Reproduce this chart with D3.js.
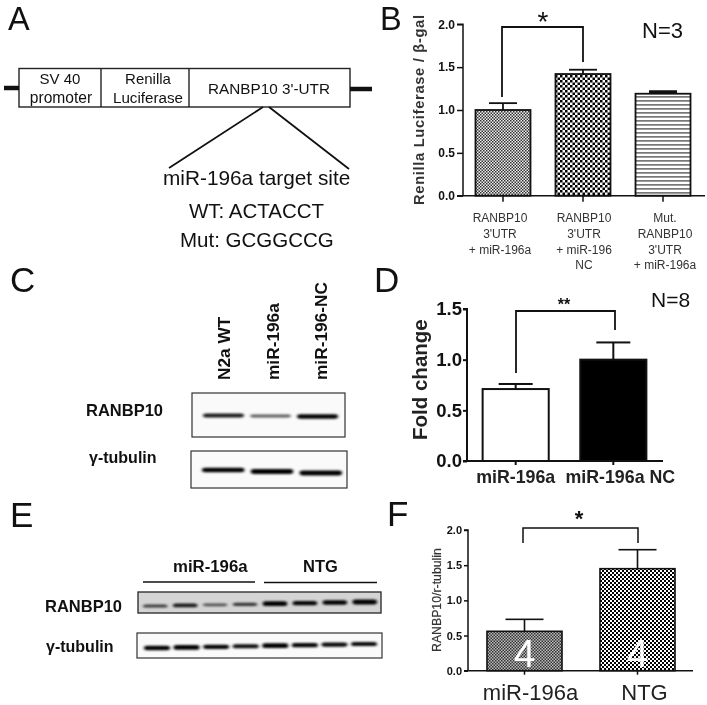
<!DOCTYPE html>
<html><head><meta charset="utf-8">
<script src="https://cdnjs.cloudflare.com/ajax/libs/d3/7.8.5/d3.min.js"></script>
<style>html,body{margin:0;padding:0;background:#fff}svg{display:block;filter:blur(.35px)}text{font-family:"Liberation Sans",Arial,sans-serif;fill:#111}</style>
</head><body><svg id="c" width="707" height="705"></svg>
<script>
// Panel B
const bCats=[["RANBP10","3'UTR","+ miR-196a"],["RANBP10","3'UTR","+ miR-196","NC"],["Mut.","RANBP10","3'UTR","+ miR-196a"]];
const bVals=[1.0,1.42,1.19];
const bTops=[1.08,1.47,1.22];
const bTicks=[0,0.5,1,1.5,2];
// Panel D
const dCats=["miR-196a","miR-196a NC"];
const dVals=[0.71,1.0];
const dTops=[0.76,1.17];
const dTicks=[0,0.5,1,1.5];
// Panel F
const fCats=["miR-196a","NTG"];
const fVals=[0.56,1.45];
const fTops=[0.73,1.72];
const fTicks=[0,0.5,1,1.5,2];
const fCounts=["4","4"];
// Blot band intensities
const cLanes=["N2a WT","miR-196a","miR-196-NC"];
const cRanbp=[0.72,0.38,0.85];
const cTub=[0.9,1,1];
const eRanbp=[0.5,0.72,0.38,0.55,1,0.85,0.92,1];
const eTub=[0.92,1,0.85,0.8,1,0.85,0.82,0.82];

const svg=d3.select("#c"),defs=svg.append("defs");
function pat(id,w,h,draw){const p=defs.append("pattern").attr("id",id).attr("patternUnits","userSpaceOnUse").attr("width",w).attr("height",h);draw(p);}
function checker(id,s,dark,light){pat(id,s*2,s*2,p=>{
 p.append("rect").attr("width",s*2).attr("height",s*2).attr("fill",light);
 p.append("rect").attr("width",s).attr("height",s).attr("fill",dark);
 p.append("rect").attr("x",s).attr("y",s).attr("width",s).attr("height",s).attr("fill",dark);});}
checker("fine",1.5,"#333","#eee");
checker("coarse",2.5,"#000","#fff");
checker("mid",2,"#000","#fff");
checker("fineDark",1.5,"#333","#bbb");
pat("hl",4,4,p=>{p.append("rect").attr("width",4).attr("height",4).attr("fill","#fff");p.append("rect").attr("width",4).attr("height",1.7).attr("fill","#777");});
defs.append("filter").attr("id","b1").attr("x","-20%").attr("y","-200%").attr("width","140%").attr("height","500%").append("feGaussianBlur").attr("stdDeviation","1.8 .9");

function txt(x,y,s,size,o={}){const t=svg.append("text").attr("x",x).attr("y",y).attr("font-size",size).attr("text-anchor",o.anchor||"start").text(s);
 if(o.bold)t.attr("font-weight","bold");if(o.fill)t.style("fill",o.fill);if(o.rot)t.attr("transform",`rotate(-90 ${x} ${y})`);if(o.ls)t.attr("letter-spacing",o.ls);return t;}
function line(x1,y1,x2,y2,w,c="#111"){svg.append("line").attr("x1",x1).attr("y1",y1).attr("x2",x2).attr("y2",y2).attr("stroke",c).attr("stroke-width",w);}
function bracket(x1,y1,xt,x2,y2,w){svg.append("path").attr("d",d3.line()([[x1,y1],[x1,xt],[x2,xt],[x2,y2]])).attr("fill","none").attr("stroke","#111").attr("stroke-width",w);}

function barChart(o){
 const x=d3.scaleBand().domain(d3.range(o.vals.length)).range(o.xr).paddingInner(o.pi).paddingOuter(o.po);
 const y=d3.scaleLinear().domain([0,o.ticks[o.ticks.length-1]]).range(o.yr);
 const g=svg.append("g");
 g.selectAll(".b").data(o.vals).join("rect").attr("x",(d,i)=>x(i)).attr("y",d=>y(d)).attr("width",x.bandwidth()).attr("height",d=>o.yr[0]-y(d))
  .attr("fill",(d,i)=>o.fills[i]).attr("stroke","#111").attr("stroke-width",o.sw);
 g.selectAll(".e").data(o.tops).join("line").attr("x1",(d,i)=>x(i)+x.bandwidth()/2).attr("x2",(d,i)=>x(i)+x.bandwidth()/2).attr("y1",(d,i)=>y(o.vals[i])).attr("y2",d=>y(d)).attr("stroke","#111").attr("stroke-width",o.sw);
 g.selectAll(".c").data(o.tops).join("rect")
  .attr("x",(d,i)=>x(i)+x.bandwidth()/2-o.cap).attr("width",o.cap*2)
  .attr("y",d=>y(d)-o.sw/2)
  .attr("height",(d,i)=>(d-o.vals[i])<0.04?y(o.vals[i])-y(d)+o.sw/2:o.sw)
  .attr("fill","#111");
 const ay=g.append("g").attr("transform",`translate(${o.xr[0]},0)`).call(d3.axisLeft(y).tickValues(o.ticks).tickFormat(d3.format(".1f")).tickSize(o.tl).tickPadding(o.tp));
 const ax=g.append("g").attr("transform",`translate(0,${o.yr[0]})`).call(d3.axisBottom(x).tickFormat("").tickSize(o.tl));
 [ay,ax].forEach(a=>{a.select(".domain").attr("stroke","#111").attr("stroke-width",o.asw).attr("d",a===ay?`M0,${o.yr[0]}V${o.yr[1]}H${o.tl*-1}`:`M${o.xr[0]-o.tl},0H${o.xax}`);a.selectAll(".tick line").attr("stroke","#111").attr("stroke-width",o.asw);});
 ay.selectAll("text").attr("font-family",null).style("font-family",'"Liberation Sans"').attr("font-size",o.fs).attr("font-weight","bold");
 return {x,y};
}

// Letters
[["A",8,29.5,32.5],["B",380,29.5,32.5],["C",10,292,35],["D",374,292,35],["E",10,527,35],["F",387,526,35]].forEach(d=>txt(d[1],d[2],d[0],d[3]));

// Panel A
svg.append("rect").attr("x",19).attr("y",68.5).attr("width",331).attr("height",38.5).attr("fill","#fff").attr("stroke","#222").attr("stroke-width",1.4);
line(101,68,101,107,1.4,"#222");line(189,68,189,107,1.4,"#222");
line(4,88,19,88,4.5);line(350,89,372,89,4.5);
line(263,107,169,168,1.8);line(269,107,349,169,1.8);
txt(60,84,"SV 40",15,{anchor:"middle"});txt(61,103,"promoter",15.6,{anchor:"middle"});
txt(148,84,"Renilla",15,{anchor:"middle"});txt(148,103,"Luciferase",15.2,{anchor:"middle"});
txt(269,94,"RANBP10 3'-UTR",15.3,{anchor:"middle"});
txt(163,185,"miR-196a target site",20.8);
txt(189,218,"WT: ACTACCT",20.5);
txt(180,247,"Mut: GCGGCCG",20.5);

// Panel B
const B=barChart({vals:bVals,tops:bTops,ticks:bTicks,xr:[463,703],yr:[195.7,24.3],pi:.3125,po:.156,fills:["url(#fine)","url(#coarse)","url(#hl)"],sw:1.8,asw:1.5,cap:14,tl:6,tp:2,fs:12,xax:705});
bCats.forEach((ls,i)=>ls.forEach((s,j)=>txt(B.x(i)+B.x.bandwidth()/2+(i==0?-3:i==2?2:1),222+j*15.8,s,12,{anchor:"middle",fill:"#333"})));
txt(424,205,"Renilla Luciferase / β-gal",14.7,{bold:true,rot:true,fill:"#333",ls:.68});
bracket(502,97,27,583,62,1.8);
txt(543,31,"*",28,{anchor:"middle"});
txt(642,38,"N=3",22);

// Panel D
const D=barChart({vals:dVals,tops:dTops,ticks:dTicks,xr:[467,662],yr:[461,309],pi:.323,po:.16,fills:["#fff","#000"],sw:2,asw:2,cap:17,tl:4,tp:1,fs:18.5,xax:663});
dCats.forEach((s,i)=>txt(D.x(i)+D.x.bandwidth()/2+(i==1?7:0),483,s,17.8,{anchor:"middle",bold:true,fill:"#222"}));
txt(427,440,"Fold change",20.5,{bold:true,rot:true,fill:"#222"});
bracket(516,373,311,615,330,1.8);
txt(564,310,"**",16,{anchor:"middle",bold:true});
txt(651,307,"N=8",21);

// Panel F
const F=barChart({vals:fVals,tops:fTops,ticks:fTicks,xr:[468,694],yr:[670.7,530],pi:.336,po:.168,fills:["url(#fineDark)","url(#mid)"],sw:1.6,asw:1.5,cap:19,tl:4,tp:2,fs:11,xax:693});
fCats.forEach((s,i)=>txt(F.x(i)+F.x.bandwidth()/2+(i==0?6:7),700,s,22,{anchor:"middle",fill:"#222"}));
fCounts.forEach((s,i)=>txt(F.x(i)+F.x.bandwidth()/2,667,s,39,{anchor:"middle",fill:"#fff"}));
txt(441,652,"RANBP10/r-tubulin",12.3,{rot:true,fill:"#333"}).attr("stroke","#333").attr("stroke-width",.2);
bracket(523,543,528,638,543,1.5);
txt(579,526,"*",22,{anchor:"middle",bold:true});

// Blots
function blot(o){
 svg.append("rect").attr("x",o.x).attr("y",o.y).attr("width",o.w).attr("height",o.h).attr("fill",o.bg||"#fafafa").attr("stroke","#333").attr("stroke-width",o.sw||1.2);
 const xs=d3.scaleBand().domain(d3.range(o.vals.length)).range(o.lanes).paddingInner(o.pad);
 const ys=d3.scaleLinear().domain([0,o.vals.length-1]).range(o.yTrend);
 svg.append("g").attr("filter","url(#b1)").selectAll("rect").data(o.vals).join("rect")
  .attr("x",(d,i)=>xs(i)).attr("width",xs.bandwidth())
  .attr("y",(d,i)=>ys(i)-(1+2.2*d)*0.75).attr("height",d=>2*(1+2.2*d)*0.75)
  .attr("rx",3).attr("fill","#000").attr("opacity",d=>Math.min(1,.35+.75*d));
}
blot({vals:cRanbp,x:192,y:393,w:153,h:44,lanes:[203,338],pad:.13,yTrend:[415.5,416.5]});
blot({vals:cTub,x:191,y:451,w:156,h:37,lanes:[202,342],pad:.13,yTrend:[470,473]});
blot({vals:eRanbp,x:138,y:592,w:243,h:21,bg:"#d4d4d4",sw:1.4,lanes:[143,377],pad:.18,yTrend:[606,602]});
blot({vals:eTub,x:137,y:633,w:245,h:25,sw:1.2,lanes:[144,377],pad:.12,yTrend:[648,644]});

// Blot labels
cLanes.forEach((s,i)=>txt(230+i*48.5,380,s,17.3,{bold:true,rot:true}));
txt(86,416,"RANBP10",16.5,{bold:true});
txt(89,463,"γ-tubulin",16,{bold:true});
txt(173,572,"miR-196a",16.8,{bold:true});
txt(303,572,"NTG",16.5,{bold:true});
line(143,582,255,582,1.6);line(264,582.5,377,582.5,1.6);
txt(45,612,"RANBP10",16.5,{bold:true});
txt(46,652,"γ-tubulin",16,{bold:true});
</script></body></html>
